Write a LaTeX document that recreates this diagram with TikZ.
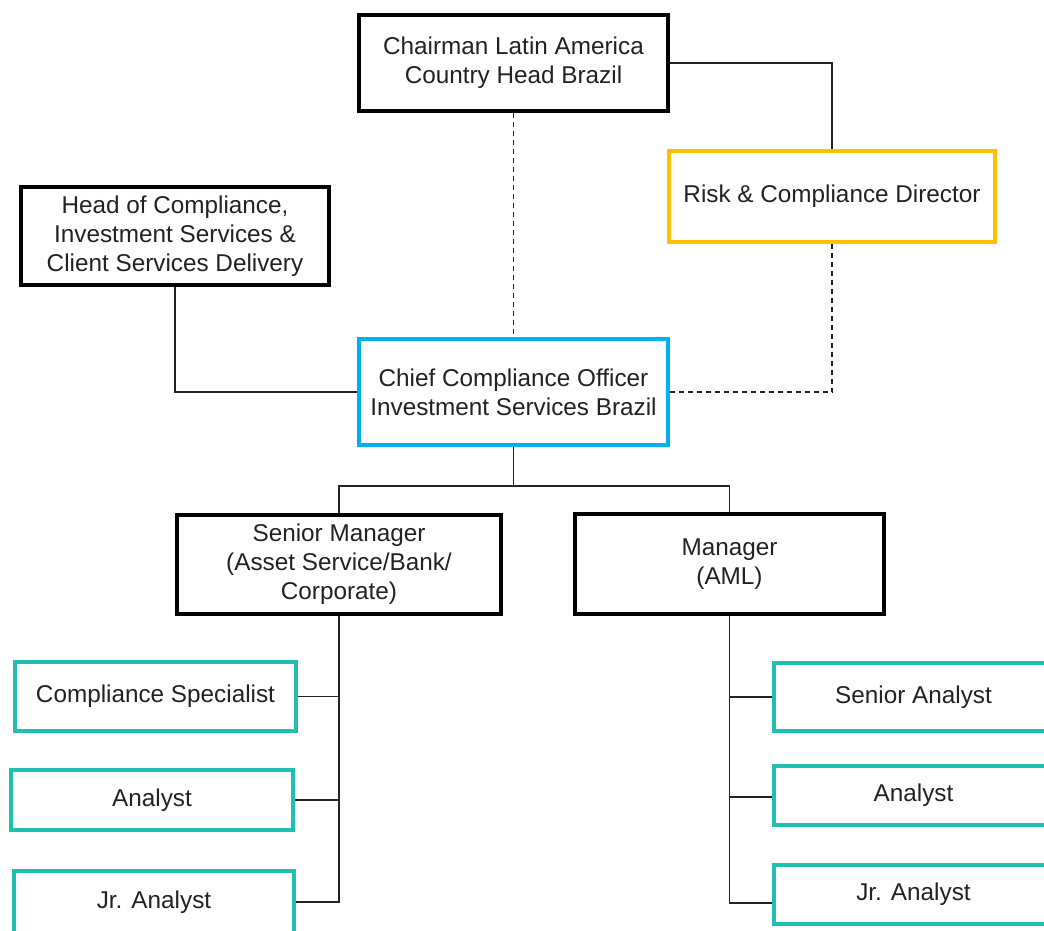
\documentclass[tikz,border=0pt]{standalone}
\usepackage{fontspec}
\setmainfont{Liberation Sans}
\definecolor{txt}{HTML}{222222}
\definecolor{boss}{HTML}{000000}
\definecolor{riskc}{HTML}{FFC000}
\definecolor{ccoc}{HTML}{00B0F0}
\definecolor{staff}{HTML}{21BFB1}
\definecolor{wire}{HTML}{222222}
\begin{document}
\begin{tikzpicture}[x=1pt,y=-1pt,
  box/.style={rectangle, draw=boss, line width=4pt, fill=white, inner sep=0pt,
    align=center, text=txt, font=\fontsize{24.3}{29}\selectfont},
  riskbox/.style={box, draw=riskc},
  ccobox/.style={box, draw=ccoc},
  staffbox/.style={box, draw=staff},
  link/.style={draw=wire, line width=1.5pt},
  dlink/.style={link, dash pattern=on 5pt off 4pt}]
\clip (0,0) rectangle (1044,930);
\fill[white] (0,0) rectangle (1044,930);

% top level
\node[box, minimum width=309pt, minimum height=96pt] (chair) at (513.5,63)
  {Chairman Latin America\\Country Head Brazil};
\node[riskbox, minimum width=326pt, minimum height=91pt] (risk) at (832,196)
  {Risk \& Compliance Director};
\node[box, minimum width=308pt, minimum height=98pt] (head) at (175,236)
  {Head of Compliance,\\Investment Services \&\\Client Services Delivery};
\node[ccobox, minimum width=309pt, minimum height=106pt] (cco) at (513.5,392)
  {Chief Compliance Officer\\Investment Services Brazil};

% managers
\node[box, minimum width=324pt, minimum height=99pt] (smgr) at (339,564.5)
  {Senior Manager\\(Asset Service/Bank/\\Corporate)};
\node[box, minimum width=309pt, minimum height=100pt] (mgr) at (729.5,564)
  {Manager\\(AML)};

% left team
\node[staffbox, minimum width=281pt, minimum height=69pt] (specL) at (155.5,696.5)
  {Compliance Specialist};
\node[staffbox, minimum width=282pt, minimum height=60pt] (anL) at (152,800)
  {Analyst};
\node[staffbox, minimum width=280pt, minimum height=62pt] (jrL) at (154,902)
  {Jr. Analyst};

% right team
\node[staffbox, minimum width=279pt, minimum height=68pt] (senR) at (913.5,697)
  {Senior Analyst};
\node[staffbox, minimum width=279pt, minimum height=59pt] (anR) at (913.5,795.5)
  {Analyst};
\node[staffbox, minimum width=279pt, minimum height=59pt] (jrR) at (913.5,894.5)
  {Jr. Analyst};

% reporting lines
\draw[link] (chair.east) -| (risk.north);
\draw[dlink] (chair.south) -- (cco.north);
\draw[dlink] (risk.south) |- (cco.east);
\draw[link] (head.south) |- (cco.west);

\coordinate (split) at (513.5,486);
\draw[link] (cco.south) -- (split);
\draw[link] (smgr.north) |- (split) -| (mgr.north);

\draw[link] (smgr.south) |- (jrL.east);
\draw[link] (specL.east) -- (specL.east -| smgr.south);
\draw[link] (anL.east) -- (anL.east -| smgr.south);

\coordinate (jrRtap) at ([yshift=-8.5pt]jrR.west);
\draw[link] (mgr.south) |- (jrRtap);
\draw[link] (senR.west) -- (senR.west -| mgr.south);
\draw[link] ([yshift=-1.5pt]anR.west) -- ([yshift=-1.5pt]anR.west -| mgr.south);
\end{tikzpicture}
\end{document}
